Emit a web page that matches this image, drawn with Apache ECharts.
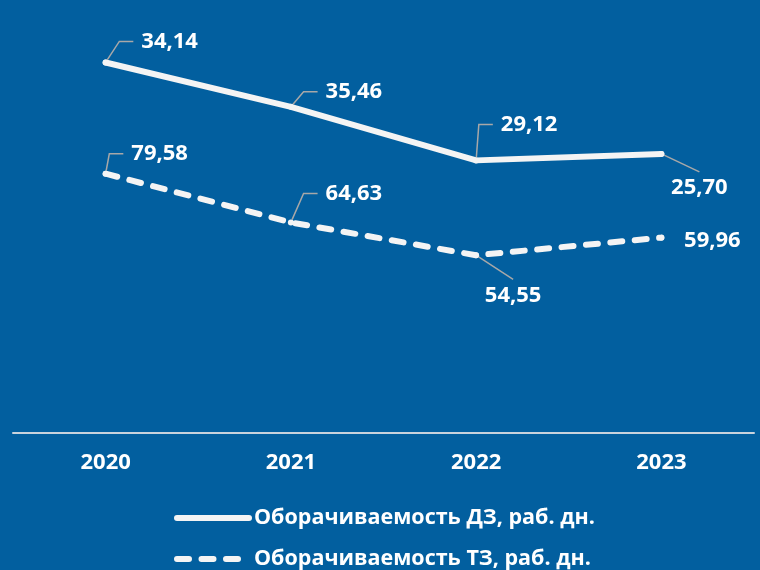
<!DOCTYPE html>
<html>
<head>
<meta charset="utf-8">
<script src="https://cdn.jsdelivr.net/npm/echarts@6/dist/echarts.min.js"></script>
<style>
	html, body { margin: 0; padding: 0; background: #025f9f; }
	#chart { width: 760px; height: 570px; }
</style>
</head>
<body>
<div id="chart"></div>
<script>
var years = ['2020', '2021', '2022', '2023'];
var dzName = 'Оборачиваемость ДЗ, раб. дн.';
var tzName = 'Оборачиваемость ТЗ, раб. дн.';
var dzValues = [34.14, 35.46, 29.12, 25.70];
var tzValues = [79.58, 64.63, 54.55, 59.96];

// label offsets from the point (px), like the hand-placed labels in the source
var dzOffsets = [[64, -21], [63, -15], [53, -36], [38, 34]];
var tzOffsets = [[54, -20], [63, -29], [37, 40], [51, 3]];

var font = '"Open Sans", "Noto Sans", sans-serif';
var white = '#f4f4f4';

var myChart = echarts.init(document.getElementById('chart'), null, { renderer: 'canvas' });

function fmt(p) {
	return p.value.toFixed(2).replace('.', ',');
}

function makeData(values, offsets) {
	var res = [];
	for (var i = 0; i < values.length; i++) {
		var item = { value: values[i] };
		// labels under the point: straight leader to the top of the label
		if (offsets[i][1] > 30) {
			item.label = { padding: [10, 40, 0, 40] };
			item.labelLine = { length2: 0 };
		}
		// label right next to the point: no leader
		if (Math.abs(offsets[i][1]) < 10) {
			item.labelLine = { show: false };
		}
		res.push(item);
	}
	return res;
}

var labelStyle = {
	show: true,
	position: 'inside',
	formatter: fmt,
	color: '#ffffff',
	fontFamily: font,
	fontWeight: 'bold',
	fontSize: 22,
	padding: [2, 8],
	backgroundColor: 'rgba(0,0,0,0)'
};

var labelLineStyle = {
	show: true,
	length2: 14,
	lineStyle: { color: '#a8a8a8', width: 1.5 }
};

var option = {
	backgroundColor: '#025f9f',
	animation: false,
	grid: { left: 13, right: 6, top: 42, bottom: 137 },
	legend: {
		orient: 'vertical',
		left: 169,
		top: 502,
		height: 100,
		itemWidth: 72,
		itemHeight: 14,
		itemGap: 19,
		data: [dzName, tzName],
		itemStyle: { opacity: 0 },
		lineStyle: { width: 6, cap: 'round' },
		textStyle: { color: '#ffffff', fontFamily: font, fontWeight: 'bold', fontSize: 21.5 }
	},
	xAxis: {
		type: 'category',
		data: years,
		axisLine: { lineStyle: { color: '#c9d3dd', width: 2 } },
		axisTick: { show: false },
		axisLabel: { color: '#ffffff', fontFamily: font, fontWeight: 'bold', fontSize: 22, margin: 19 }
	},
	yAxis: {
		type: 'value',
		min: 0,
		max: 120,
		show: false,
		splitLine: { show: false }
	},
	series: [
		{
			name: tzName,
			type: 'line',
			stack: 'total',
			symbol: 'circle',
			symbolSize: 6,
			itemStyle: { color: white },
			lineStyle: { color: white, width: 6, type: [12, 12.5], cap: 'round' },
			label: labelStyle,
			labelLine: labelLineStyle,
			labelLayout: function (p) {
				return { dx: tzOffsets[p.dataIndex][0], dy: tzOffsets[p.dataIndex][1] };
			},
			data: makeData(tzValues, tzOffsets)
		},
		{
			name: dzName,
			type: 'line',
			stack: 'total',
			symbol: 'circle',
			symbolSize: 6,
			itemStyle: { color: white },
			lineStyle: { color: white, width: 6, cap: 'round' },
			label: labelStyle,
			labelLine: labelLineStyle,
			labelLayout: function (p) {
				return { dx: dzOffsets[p.dataIndex][0], dy: dzOffsets[p.dataIndex][1] };
			},
			data: makeData(dzValues, dzOffsets)
		}
	]
};

myChart.setOption(option);
</script>
</body>
</html>
